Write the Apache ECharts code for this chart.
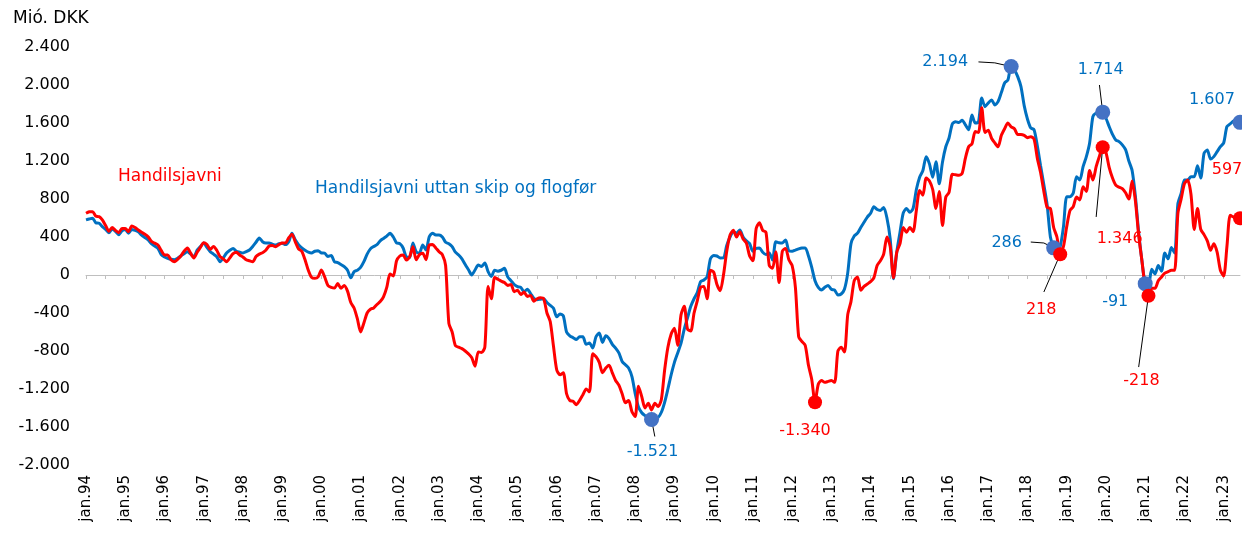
<!DOCTYPE html>
<html>
<head>
<meta charset="utf-8">
<title>Handilsjavni</title>
<script src="https://cdn.jsdelivr.net/npm/echarts@6/dist/echarts.min.js"></script>
<style>
  html, body { margin: 0; padding: 0; background: #fff; }
  #chart { width: 1242px; height: 537px; }
</style>
</head>
<body>
<div id="chart"></div>
<script>
// manaðarlig tøl, jan.94 - jun.23 (mió. kr.)
var monthNames = ['jan', 'feb', 'mar', 'apr', 'mai', 'jun', 'jul', 'aug', 'sep', 'okt', 'nov', 'des'];
var firstYear = 1994;
var lastYear = 2023;
var lastMonth = 6;

var yTicks = [-2000, -1600, -1200, -800, -400, 0, 400, 800, 1200, 1600, 2000, 2400];

// Handilsjavni
var handilsjavni = [
  650, 665, 667, 620, 614, 580, 520, 460, 500, 470, 445, 490,            // 1994
  490, 456, 515, 500, 474, 450, 430, 403, 355, 335, 316, 260,            // 1995
  211, 211, 160, 140, 165, 200, 250, 284, 230, 179, 240, 290,            // 1996
  340, 320, 270, 300, 260, 193, 170, 140, 180, 225, 240, 211,            // 1997
  190, 160, 150, 140, 195, 220, 235, 260, 305, 310, 298, 320,            // 1998
  337, 337, 390, 430, 350, 275, 250, 160, 50, -25, -35, -20,             // 1999
  53, -20, -110, -130, -137, -90, -140, -110, -170, -290, -347, -460,    // 2000
  -600, -505, -400, -360, -347, -310, -280, -230, -130, 10, -10, 150,    // 2001
  200, 211, 158, 190, 298, 160, 215, 230, 160, 316, 320, 285,            // 2002
  245, 215, 100, -510, -600, -745, -760, -775, -800, -830, -870, -960,   // 2003
  -810, -815, -760, -120, -250, -25, -45, -65, -80, -110, -100, -175,    // 2004
  -160, -205, -180, -225, -215, -275, -250, -240, -250, -400, -490, -750, // 2005
  -1000, -1050, -1030, -1250, -1320, -1330, -1365, -1320, -1260, -1200, -1230, -830, // 2006
  -860, -920, -1030, -980, -950, -1030, -1110, -1160, -1250, -1345, -1320, -1440,    // 2007
  -1490, -1170, -1280, -1400, -1350, -1420, -1350, -1385, -1310, -1000, -760, -620,  // 2008
  -560, -740, -420, -330, -570, -590, -400, -270, -130, -120, -250, 50,  // 2009
  30, -100, -165, 0, 250, 420, 470, 400, 456, 380, 337, 200,             // 2010
  150, 490, 550, 470, 450, 100, 70, 245, -80, 250, 280, 160,             // 2011
  100, -130, -650, -700, -740, -950, -1100, -1340, -1150, -1110, -1130, -1120, // 2012
  -1110, -1130, -800, -760, -810, -420, -280, -60, -20, -160, -120, -95, // 2013
  -70, -30, 100, 150, 220, 400, 300, -30, 240, 330, 500, 450,            // 2014
  500, 456, 680, 890, 840, 1020, 990, 900, 700, 880, 520, 820,           // 2015
  870, 1060, 1055, 1050, 1070, 1230, 1350, 1380, 1510, 1500, 1760, 1500, // 2016
  1525, 1440, 1390, 1350, 1470, 1540, 1600, 1560, 1540, 1480, 1480, 1470, // 2017
  1445, 1456, 1430, 1230, 1080, 880, 710, 700, 500, 400, 218, 300,       // 2018
  510, 680, 720, 820, 790, 930, 880, 1100, 1000, 1140, 1250, 1346,       // 2019
  1290, 1130, 1020, 945, 925, 910, 865, 800, 990, 780, 420, 150,         // 2020
  -120, -218, -140, -140, -60, -20, 20, 35, 50, 50, 650, 800,            // 2021
  960, 1000, 850, 480, 700, 480, 425, 360, 260, 330, 240, 50,            // 2022
  -10, 300, 630, 610, 620, 597                                           // 2023
];

// Handilsjavni uttan skip og flogfør
var uttanSkip = [
  580, 590, 597, 550, 544, 510, 480, 445, 485, 460, 425, 465,            // 1994
  480, 440, 480, 470, 455, 420, 395, 369, 330, 305, 281, 215,            // 1995
  190, 176, 165, 160, 176, 200, 225, 245, 220, 193, 263, 300,            // 1996
  337, 290, 245, 220, 193, 140, 180, 232, 260, 280, 250, 240,            // 1997
  232, 245, 263, 300, 345, 389, 350, 337, 337, 325, 316, 330,            // 1998
  335, 320, 350, 440, 370, 320, 285, 260, 240, 232, 250, 255,            // 1999
  232, 230, 195, 205, 140, 130, 110, 88, 50, -30, 35, 50,                // 2000
  80, 140, 220, 275, 300, 320, 360, 385, 410, 440, 400, 337,             // 2001
  330, 284, 190, 185, 337, 245, 232, 316, 263, 403, 440, 421,            // 2002
  421, 400, 345, 330, 298, 240, 210, 170, 110, 55, 0, 53,                // 2003
  105, 90, 126, 35, -15, 50, 40, 50, 70, -20, -60, -100,                 // 2004
  -123, -130, -176, -150, -195, -245, -260, -255, -250, -290, -320, -350, // 2005
  -440, -410, -430, -600, -640, -660, -680, -649, -650, -730, -716, -768, // 2006
  -650, -611, -710, -640, -670, -730, -770, -820, -910, -945, -980, -1071, // 2007
  -1250, -1390, -1450, -1480, -1500, -1521, -1510, -1500, -1445, -1340, -1200, -1050, // 2008
  -920, -820, -720, -570, -450, -330, -250, -185, -70, -53, -18, 170,    // 2009
  205, 200, 179, 180, 310, 400, 455, 442, 474, 400, 360, 330,            // 2010
  250, 280, 284, 240, 215, 232, 158, 351, 340, 337, 369, 255,            // 2011
  250, 262, 275, 284, 285, 200, 80, -60, -130, -158, -130, -110,         // 2012
  -150, -160, -210, -200, -150, 20, 330, 410, 440, 500, 555, 610,        // 2013
  650, 719, 690, 680, 710, 600, 380, -40, 240, 450, 653, 700,            // 2014
  660, 700, 900, 1030, 1100, 1246, 1170, 1030, 1193, 960, 1190, 1350,    // 2015
  1442, 1590, 1614, 1605, 1630, 1580, 1530, 1685, 1600, 1610, 1864, 1772, // 2016
  1811, 1843, 1790, 1825, 1920, 2021, 2053, 2194, 2160, 2088, 1983, 1780, // 2017
  1640, 1548, 1530, 1360, 1150, 950, 740, 400, 286, 232, 298, 509,       // 2018
  825, 825, 863, 1035, 1000, 1140, 1246, 1390, 1667, 1706, 1710, 1714,   // 2019
  1650, 1560, 1480, 1421, 1404, 1370, 1320, 1200, 1100, 830, 450, 150,   // 2020
  -91, -100, 60, 10, 100, 40, 232, 170, 290, 232, 750, 860,              // 2021
  1000, 1000, 1035, 1035, 1150, 1020, 1280, 1316, 1220, 1246, 1298, 1351, // 2022
  1390, 1562, 1590, 1620, 1632, 1607                                     // 2023
];

// merktir punktir (indeks í dátunum)
var blueMarks = [173, 283, 296, 311, 324, 353];
var redMarks = [223, 298, 311, 325, 353];

var months = [];
for (var y = firstYear; y <= lastYear; y++) {
  for (var m = 0; m < 12; m++) {
    if (y === lastYear && m >= lastMonth) break;
    months.push(monthNames[m] + '.' + String(y).slice(2));
  }
}

var BLUE = '#0070C0';
var DOT_BLUE = '#4472C4';
var RED = '#FF0000';
var FONT = 'DejaVu Sans';

function fmt(v) {
  var s = String(Math.abs(Math.round(v)));
  s = s.replace(/\B(?=(\d{3})+(?!\d))/g, '.');
  return (v < 0 ? '-' : '') + s;
}

// label offsets relative to the dot
var blueOffsets = {173: [1, 32], 283: [-66, -5], 296: [-47, -5], 311: [-2, -42], 324: [-30, 18], 353: [-28, -22]};
var redOffsets = {223: [-10, 29], 298: [-19, 56], 311: [17, 92], 325: [-7, 85], 353: [-13, -48]};

function markData(idx, vals, offsets, dotColor, textColor, size) {
  return idx.map(function (i) {
    return {
      coord: [months[i], vals[i]],
      value: vals[i],
      symbolSize: size,
      itemStyle: { color: dotColor },
      label: {
        show: true, position: 'inside', offset: offsets[i],
        formatter: fmt(vals[i]), color: textColor,
        fontFamily: FONT, fontSize: 16
      }
    };
  });
}

function seg(i1, v1, i2, v2) {
  return [{ coord: [months[i1], v1] }, { coord: [months[i2], v2] }];
}

var chart = echarts.init(document.getElementById('chart'), null, { renderer: 'canvas' });

var option = {
  animation: false,
  backgroundColor: '#fff',
  title: {
    text: 'Mió. DKK', left: 8, top: 5,
    textStyle: { fontFamily: FONT, fontSize: 17, fontWeight: 'normal', color: '#000' }
  },
  graphic: [
    { type: 'text', left: 118, top: 168, style: { text: 'Handilsjavni', fill: RED, font: '17px "DejaVu Sans"' } },
    { type: 'text', left: 315, top: 180, style: { text: 'Handilsjavni uttan skip og flogfør', fill: BLUE, font: '17px "DejaVu Sans"' } }
  ],
  grid: { left: 86, right: 2, top: 47, bottom: 72, containLabel: false },
  xAxis: [
    {
      type: 'category', data: months, boundaryGap: false, position: 'bottom',
      axisLine: { show: false, onZero: false },
      axisTick: { show: false },
      axisLabel: {
        interval: 11, rotate: 90, margin: 10,
        fontFamily: FONT, fontSize: 15, color: '#000'
      },
      splitLine: { show: false }
    },
    {
      type: 'category', data: months, boundaryGap: false, position: 'bottom',
      axisLine: { show: true, onZero: true, lineStyle: { color: '#BFBFBF', width: 1 } },
      axisTick: { show: true, interval: 5, length: 4, lineStyle: { color: '#BFBFBF' } },
      axisLabel: { show: false },
      splitLine: { show: false }
    }
  ],
  yAxis: {
    type: 'value', min: yTicks[0], max: yTicks[yTicks.length - 1], interval: 400,
    axisLine: { show: false }, axisTick: { show: false }, splitLine: { show: false },
    axisLabel: {
      margin: 16, fontFamily: FONT, fontSize: 16, color: '#000',
      formatter: function (v) { return fmt(v); }
    }
  },
  series: [
    {
      name: 'Handilsjavni uttan skip og flogfør', type: 'line', data: uttanSkip,
      xAxisIndex: 0, showSymbol: false, smooth: 0.25,
      lineStyle: { color: BLUE, width: 3 }, itemStyle: { color: BLUE },
      z: 2,
      markPoint: {
        symbol: 'circle', silent: true,
        data: markData(blueMarks, uttanSkip, blueOffsets, DOT_BLUE, BLUE, 15)
      },
      markLine: {
        silent: true, symbol: 'none', label: { show: false },
        lineStyle: { color: '#000', width: 1, type: 'solid' },
        data: [
          seg(173, -1521, 174, -1700),
          seg(273, 2243, 278, 2233),
          seg(278, 2233, 283, 2194),
          seg(310, 2000, 311, 1714),
          seg(289, 347, 293, 337),
          seg(293, 337, 296, 286)
        ]
      }
    },
    {
      name: 'Handilsjavni', type: 'line', data: handilsjavni,
      xAxisIndex: 0, showSymbol: false, smooth: 0.25,
      lineStyle: { color: RED, width: 3 }, itemStyle: { color: RED },
      z: 3,
      markPoint: {
        symbol: 'circle', silent: true,
        data: markData(redMarks, handilsjavni, redOffsets, RED, RED, 14)
      },
      markLine: {
        silent: true, symbol: 'none', label: { show: false },
        lineStyle: { color: '#000', width: 1, type: 'solid' },
        data: [
          seg(298, 218, 293, -179),
          seg(311, 1346, 309, 611),
          seg(325, -218, 322, -969)
        ]
      }
    }
  ]
};

chart.setOption(option);
</script>
</body>
</html>
